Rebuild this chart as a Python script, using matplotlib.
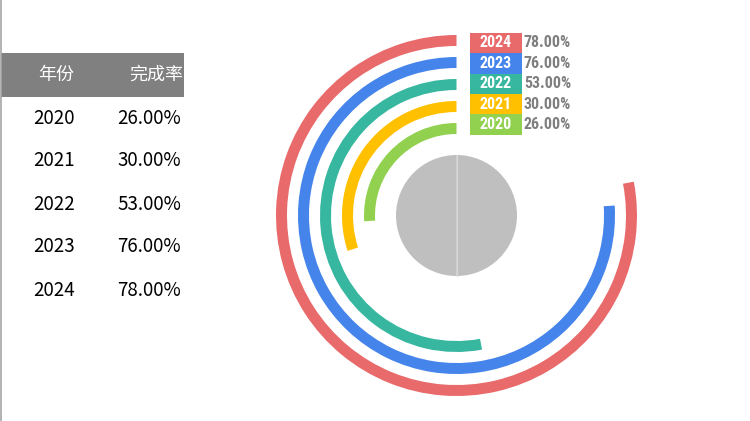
import matplotlib
matplotlib.use("Agg")
import matplotlib.pyplot as plt
from matplotlib.patches import Wedge, Rectangle
from matplotlib import font_manager

years = ["2020", "2021", "2022", "2023", "2024"]
rates = [26.00, 30.00, 53.00, 76.00, 78.00]
header = ["年份", "完成率"]
colors = ["#92D050", "#FFC000", "#37B79F", "#4584EA", "#E86A6B"]

names = {f.name for f in font_manager.fontManager.ttflist}
narrow = "DejaVu Sans"
for cand in ["Roboto Condensed", "Asap Condensed", "Oswald", "Liberation Sans Narrow"]:
    if cand in names:
        narrow = cand
        break
cjk = ["Noto Sans CJK SC", "DejaVu Sans"]

W, H = 750, 421
fig = plt.figure(figsize=(W / 100, H / 100), dpi=100)
ax = fig.add_axes([0, 0, 1, 1])
ax.set_xlim(0, W)
ax.set_ylim(0, H)
ax.set_aspect("equal")
ax.axis("off")

def Y(py):
    return H - py

# left border line
ax.plot([0.8, 0.8], [0, H], color="#A6A6A6", lw=1.2)

# table header
ax.add_patch(Rectangle((1, Y(97)), 183, 44, color="#808080", lw=0))
ax.text(56, Y(75), header[0], color="white", fontsize=13, family=cjk, ha="center", va="center")
ax.text(183, Y(75), header[1], color="white", fontsize=13, family=cjk, ha="right", va="center")
for i, (yr, r) in enumerate(zip(years, rates)):
    py = 118 + 43 * i
    ax.text(54, Y(py), yr, color="black", fontsize=13.5, family=cjk, ha="center", va="center")
    ax.text(181, Y(py), f"{r:.2f}%", color="black", fontsize=13.5, family=cjk, ha="right", va="center")

# rings
cx, cy = 456.5, Y(215.5)
outer = 180.5
width = 11
step = 22
n = len(years)
for i, (r, c) in enumerate(zip(rates, colors)):
    k = n - 1 - i
    ro = outer - step * k
    ax.add_patch(Wedge((cx, cy), ro, 90, 90 + 360 * r / 100, width=width, color=c, lw=0))

# center pie
ax.add_patch(Wedge((cx, cy), 60.5, 90, 270, color="#BFBFBF", lw=0))
ax.add_patch(Wedge((cx, cy), 60.5, 270, 450, color="#BFBFBF", lw=0))
ax.plot([cx, cx], [cy - 60.5, cy + 60.5], color="#D9D9D9", lw=0.8)

# labels
box_top = 32.7
box_h = 20.4
for j in range(n):
    i = n - 1 - j
    top = box_top + box_h * j
    ax.add_patch(Rectangle((470, Y(top + box_h)), 52, box_h, color=colors[i], lw=0))
    ax.text(496, Y(top + box_h / 2), years[i], color="white", fontsize=11.5,
            family=narrow, weight="bold", ha="center", va="center")
    ax.text(524, Y(top + box_h / 2), f"{rates[i]:.2f}%", color="#7F7F7F", fontsize=11.5,
            family=narrow, weight="bold", ha="left", va="center")

fig.savefig("out.png", dpi=100)
